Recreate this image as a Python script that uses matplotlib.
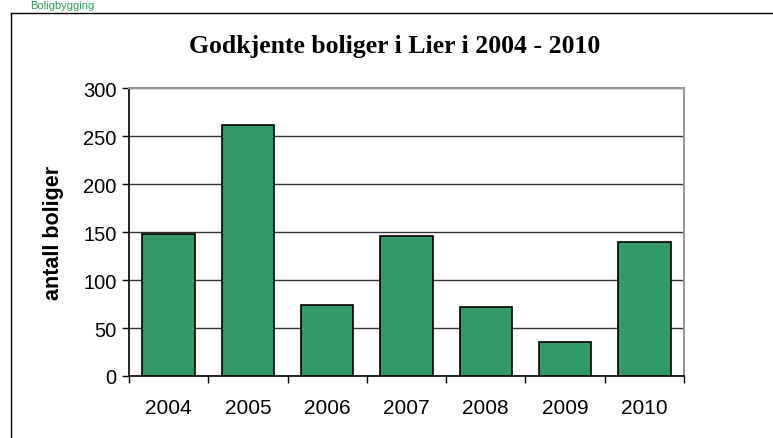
import matplotlib
matplotlib.use("Agg")
import matplotlib.pyplot as plt
from matplotlib.lines import Line2D

years = ["2004", "2005", "2006", "2007", "2008", "2009", "2010"]
values = [148, 262, 74, 146, 72, 35, 140]
yticks = [0, 50, 100, 150, 200, 250, 300]
title = "Godkjente boliger i Lier i 2004 - 2010"
ylabel = "antall boliger"
heading = "Boligbygging"

W, H = 773, 439
fig = plt.figure(figsize=(W / 100, H / 100), dpi=100)
fig.patch.set_facecolor("white")

# small green heading at very top (cropped in the source page)
fig.text(30 / W, 1 - 1 / H, heading, color="#2f9a5a", fontsize=8,
         fontfamily="Liberation Sans", ha="left", va="top")

# outer frame (left and top edges visible)
fig.add_artist(Line2D([10.5 / W, 10.5 / W], [0, 1 - 14 / H], color="black", lw=1.0,
                      transform=fig.transFigure))
fig.add_artist(Line2D([10.5 / W, 1], [1 - 14 / H, 1 - 14 / H], color="black", lw=1.0,
                      transform=fig.transFigure))

left, right = 129 / W, 684 / W
bottom, top = 1 - 377 / H, 1 - 89.3 / H
ax = fig.add_axes([left, bottom, right - left, top - bottom])

x = list(range(len(years)))
ax.bar(x, values, width=0.66, color="#339966", edgecolor="black", linewidth=1.2, zorder=3)

ax.set_xlim(-0.5, len(years) - 0.5)
ax.set_ylim(0, 300)
ax.set_yticks(yticks)
ax.set_yticklabels([str(v) for v in yticks], fontfamily="Liberation Sans", fontsize=14.5)
ax.set_xticks([i - 0.5 for i in range(len(years) + 1)], minor=False)
ax.set_xticklabels([])
ax.set_xticks(x, minor=True)
ax.set_xticklabels(years, minor=True, fontfamily="Liberation Sans", fontsize=15)
ax.tick_params(axis="x", which="minor", length=0, pad=16)
ax.tick_params(axis="x", which="major", length=5, width=1, direction="out", color="black")
ax.tick_params(axis="y", length=5, width=1, direction="out", color="black", pad=4)

ax.yaxis.grid(True, color="#333333", linewidth=1.0, zorder=0)
ax.set_axisbelow(True)
for s in ["top", "right"]:
    ax.spines[s].set_color("#999999")
    ax.spines[s].set_linewidth(1.5)
for s in ["left", "bottom"]:
    ax.spines[s].set_color("black")
    ax.spines[s].set_linewidth(1.2)

ax.set_ylabel(ylabel, fontfamily="Liberation Sans", fontweight="bold", fontsize=15.5, labelpad=14)

fig.text((185 + 605) / 2 / W, 1 - 47 / H, title, fontfamily="Liberation Serif",
         fontweight="bold", fontsize=18.5, ha="center", va="center")

fig.savefig("out.png", dpi=100, facecolor="white")
